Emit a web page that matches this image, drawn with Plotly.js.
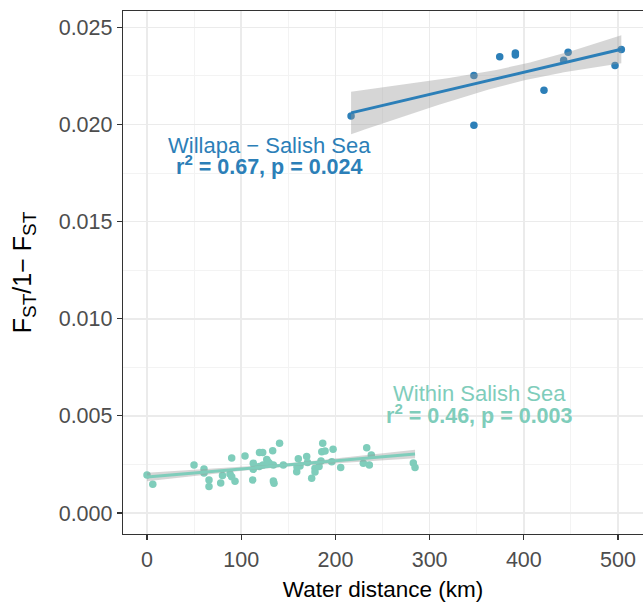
<!DOCTYPE html>
<html>
<head>
<meta charset="utf-8">
<script src="https://cdn.plot.ly/plotly-3.0.1.min.js"></script>
<style>html,body{margin:0;padding:0;background:#fff;}#chart{width:643px;height:602px;}</style>
</head>
<body>
<div id="chart"></div>
<script>
// ---- data ----
const willapaDist = [216.6, 347, 347, 374.4, 391, 391, 421.4, 442.3, 447, 496.8, 503.5];
const willapaFst  = [0.02044, 0.02252, 0.01996, 0.02348, 0.02368, 0.02358, 0.02176, 0.02331, 0.02372, 0.02303, 0.02386];

const salishDist = [0, 6.1, 49.9, 60.5, 60.5, 65.8, 65.8, 78.2, 80.1, 88.1, 89.9, 89.9, 93.4, 104, 112.2, 112.8, 112.8,
  119.4, 122.8, 119.2, 127.1, 133.4, 129.8, 134.1, 134.1, 134.8, 140.7, 144.7, 158.9, 160.6, 162.4, 169.5, 170.4,
  174.8, 178.3, 178.3, 184.7, 185.5, 186.5, 189, 196.1, 197.5, 205.6, 229.6, 233.2, 236, 238.1, 282.7, 284.5,
  123.1, 128.5, 159.2, 182.6];
const salishFst = [0.00196, 0.00148, 0.00247, 0.00227, 0.00206, 0.00170, 0.00136, 0.00155, 0.00193, 0.00201, 0.00283,
  0.00187, 0.00164, 0.00294, 0.00170, 0.00256, 0.00225, 0.00311, 0.00311, 0.00239, 0.00275, 0.00321, 0.00256, 0.00247,
  0.00165, 0.00153, 0.00359, 0.00247, 0.00213, 0.00279, 0.00242, 0.00291, 0.00260, 0.00179, 0.00230, 0.00211, 0.00268,
  0.00316, 0.00359, 0.00319, 0.00264, 0.00328, 0.00234, 0.00256, 0.00336, 0.00247, 0.00299, 0.00258, 0.00234,
  0.00247, 0.00263, 0.00237, 0.00240];

const groupNames = ["Willapa \u2212 Salish Sea", "Within Salish Sea"];
const groupStats = ["r<sup>2</sup> = 0.67, p = 0.024", "r<sup>2</sup> = 0.46, p = 0.003"];
const labelDist = [130, 353];
const labelFst  = [0.01894, 0.00613];
const statFst   = [0.01791, 0.0051];
const xTicks = [0, 100, 200, 300, 400, 500];
const yTicks = [0.000, 0.005, 0.010, 0.015, 0.020, 0.025];

const COLORS = ["#2c7fb8", "#7fcdbb"];
const LEVEL = 0.78;

// ---- linear model with confidence band ----
function normInv(p) {
  const q = p < 0.5 ? p : 1 - p;
  const t = Math.sqrt(-2 * Math.log(q));
  const z = t - (2.515517 + 0.802853 * t + 0.010328 * t * t) / (1 + 1.432788 * t + 0.189269 * t * t + 0.001308 * t * t * t);
  return p < 0.5 ? -z : z;
}
function tInv(p, v) {
  const z = normInv(p), z3 = z*z*z, z5 = z3*z*z, z7 = z5*z*z, z9 = z7*z*z;
  return z + (z3 + z) / (4 * v) + (5*z5 + 16*z3 + 3*z) / (96 * v*v)
    + (3*z7 + 19*z5 + 17*z3 - 15*z) / (384 * v*v*v)
    + (79*z9 + 776*z7 + 1482*z5 - 1920*z3 - 945*z) / (92160 * v*v*v*v);
}
function fit(xs, ys) {
  const n = xs.length;
  const mx = xs.reduce((a, b) => a + b, 0) / n;
  const my = ys.reduce((a, b) => a + b, 0) / n;
  let sxx = 0, sxy = 0;
  for (let i = 0; i < n; i++) { sxx += (xs[i]-mx)**2; sxy += (xs[i]-mx)*(ys[i]-my); }
  const b = sxy / sxx, a = my - b * mx;
  let sse = 0;
  for (let i = 0; i < n; i++) sse += (ys[i] - a - b*xs[i])**2;
  const s = Math.sqrt(sse / (n - 2));
  const tq = tInv(1 - (1 - LEVEL) / 2, n - 2);
  const lo = Math.min(...xs), hi = Math.max(...xs);
  const gx = [], gy = [], up = [], dn = [];
  for (let k = 0; k <= 80; k++) {
    const x = lo + (hi - lo) * k / 80;
    const y = a + b * x;
    const se = s * Math.sqrt(1 / n + (x - mx) ** 2 / sxx);
    gx.push(x); gy.push(y); up.push(y + tq * se); dn.push(y - tq * se);
  }
  return {gx, gy, up, dn};
}

const groups = [[willapaDist, willapaFst], [salishDist, salishFst]];
const traces = [];
groups.forEach((g, i) => {
  traces.push({x: g[0], y: g[1], type: "scatter", mode: "markers",
    marker: {color: COLORS[i], size: 7.5, line: {width: 0}}, hoverinfo: "skip"});
});
groups.forEach((g, i) => {
  const f = fit(g[0], g[1]);
  traces.push({x: f.gx.concat(f.gx.slice().reverse()), y: f.up.concat(f.dn.slice().reverse()),
    type: "scatter", mode: "lines", fill: "toself", fillcolor: "rgba(153,153,153,0.4)",
    line: {width: 0}, hoverinfo: "skip"});
  traces.push({x: f.gx, y: f.gy, type: "scatter", mode: "lines",
    line: {color: COLORS[i], width: 3}, hoverinfo: "skip"});
});

const FONT = "Liberation Sans, Arial, Helvetica, sans-serif";
const annotations = [];
groupNames.forEach((nm, i) => {
  annotations.push({x: labelDist[i], y: labelFst[i], xref: "x", yref: "y", text: nm, showarrow: false,
    font: {family: FONT, size: 22, color: COLORS[i]}, xanchor: "center", yanchor: "middle"});
  annotations.push({x: labelDist[i], y: statFst[i], xref: "x", yref: "y", text: "<b>" + groupStats[i] + "</b>",
    showarrow: false, font: {family: FONT, size: 21.5, color: COLORS[i]}, xanchor: "center", yanchor: "middle"});
});

const axisCommon = {
  showline: true, linecolor: "#333333", linewidth: 1.2, mirror: true,
  ticks: "outside", ticklen: 5, tickwidth: 1.2, tickcolor: "#333333",
  showgrid: true, gridcolor: "#ebebeb", gridwidth: 1.6, zeroline: false,
  tickfont: {family: FONT, size: 21.5, color: "#4d4d4d"}
};

const SUB = s => '<sub><span style="font-size:19px">' + s + '</span></sub>';

const layout = {
  width: 643, height: 602,
  margin: {l: 123, r: 0, t: 11, b: 68},
  paper_bgcolor: "#ffffff", plot_bgcolor: "#ffffff",
  showlegend: false,
  font: {family: FONT},
  xaxis: Object.assign({}, axisCommon, {
    range: [-25.5, 526.5], tickvals: xTicks, ticktext: xTicks.map(String),
    ticklabelstandoff: 1,
    minor: {dtick: 50, tick0: 0, showgrid: true, gridcolor: "#f3f3f3", gridwidth: 1, ticks: ""},
    title: {text: "Water distance (km)", font: {family: FONT, size: 22.5, color: "#000"}, standoff: 10},
    automargin: false
  }),
  yaxis: Object.assign({}, axisCommon, {
    range: [-0.00108, 0.02584], tickvals: yTicks, ticktext: yTicks.map(v => v.toFixed(3)),
    minor: {dtick: 0.0025, tick0: 0, showgrid: true, gridcolor: "#f3f3f3", gridwidth: 1, ticks: ""},
    title: {text: "F" + SUB("ST") + "/1\u2212 F" + SUB("ST"), font: {family: FONT, size: 25, color: "#000"}, standoff: 20},
    automargin: false
  }),
  annotations: annotations
};

Plotly.newPlot("chart", traces, layout, {staticPlot: true, displayModeBar: false});
</script>
</body>
</html>
